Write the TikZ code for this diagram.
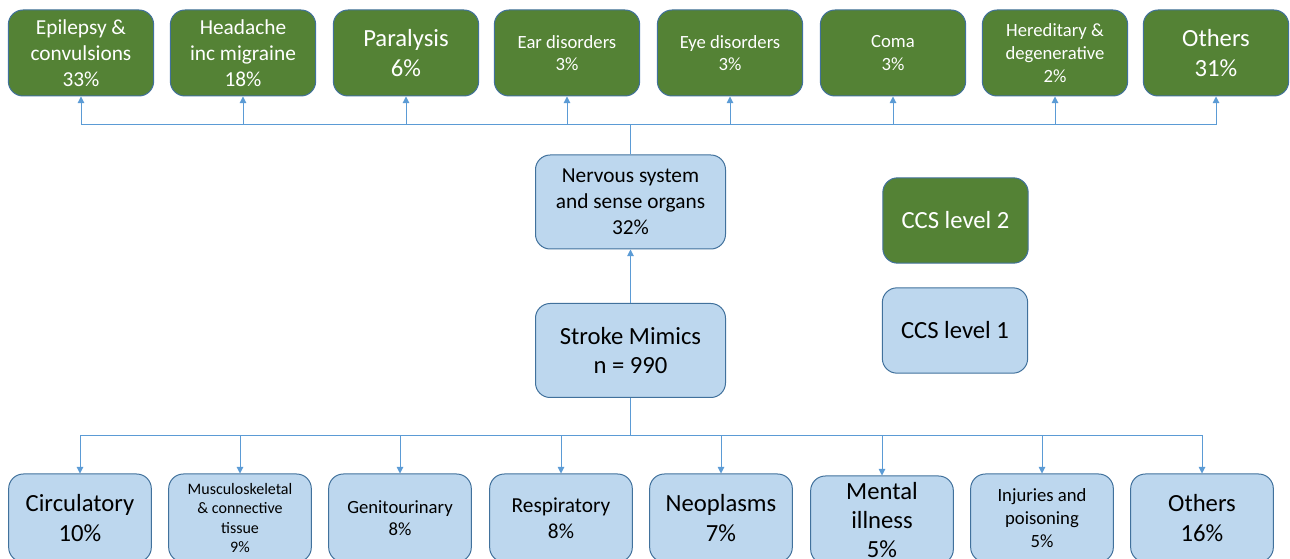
\documentclass[tikz,border=0pt]{standalone}
\usepackage{fontspec}
\setmainfont{Carlito}
\usetikzlibrary{arrows.meta}
\definecolor{ccsgreen}{HTML}{548235}
\definecolor{ccsblue}{HTML}{BDD7EE}
\definecolor{ccsedge}{HTML}{41719C}
\definecolor{ccsline}{HTML}{5B9BD5}

\begin{document}
\begin{tikzpicture}[x=0.75pt,y=-0.75pt,
    ccsbox/.style={draw=ccsedge,line width=0.75pt,rounded corners=11pt,align=center,inner sep=0pt},
    lvltwo/.style={ccsbox,fill=ccsgreen,text=white,minimum width=109pt,minimum height=64.5pt},
    lvlone/.style={ccsbox,fill=ccsblue,text=black,minimum width=107pt,minimum height=66pt},
    bigtxt/.style={font=\fontsize{18.5}{22}\selectfont},
    midtxt/.style={font=\fontsize{16}{19.5}\selectfont},
    smalltxt/.style={font=\fontsize{14}{17}\selectfont},
    tinytxt/.style={font=\fontsize{12}{14.6}\selectfont},
    conn/.style={draw=ccsline,line width=0.75pt},
    tip/.style={conn,-{Triangle[length=5pt,width=5pt]}}]
    \useasboundingbox (0,0) rectangle (1290,559);
    \node[lvltwo,midtxt] (epilepsy) at (81,53) {Epilepsy \&\\convulsions\\33\%};
    \node[lvltwo,midtxt] (headache) at (243,53) {Headache\\inc migraine\\18\%};
    \node[lvltwo,bigtxt] (paralysis) at (406,53) {Paralysis\\6\%};
    \node[lvltwo,smalltxt] (ear) at (567,53) {Ear disorders\\3\%};
    \node[lvltwo,smalltxt] (eye) at (730,53) {Eye disorders\\3\%};
    \node[lvltwo,smalltxt] (coma) at (893,53) {Coma\\3\%};
    \node[lvltwo,smalltxt] (hereditary) at (1055,53) {Hereditary \&\\degenerative\\2\%};
    \node[lvltwo,bigtxt] (othersnerv) at (1216,53) {Others\\31\%};
    \node[lvlone,midtxt,minimum width=142.5pt,minimum height=70.5pt] (nervous) at (630.5,202) {Nervous system\\and sense organs\\32\%};
    \node[lvlone,bigtxt,minimum width=142.5pt,minimum height=70.5pt] (mimics) at (630.5,350.5) {Stroke Mimics\\n = 990};
    \node[lvltwo,bigtxt,minimum height=64pt] (legendtwo) at (955.5,220.5) {CCS level 2};
    \node[lvlone,bigtxt,minimum width=109pt,minimum height=64pt] (legendone) at (955,330.5) {CCS level 1};
    \node[lvlone,bigtxt] (circulatory) at (80,518) {Circulatory\\10\%};
    \node[lvlone,tinytxt] (musculo) at (240,518) {Musculoskeletal\\\& connective\\tissue\\9\%};
    \node[lvlone,smalltxt] (genito) at (400,518) {Genitourinary\\8\%};
    \node[lvlone,midtxt] (respiratory) at (561,518) {Respiratory\\8\%};
    \node[lvlone,bigtxt] (neoplasms) at (721,518) {Neoplasms\\7\%};
    \node[lvlone,bigtxt] (mental) at (882,520) {Mental\\illness\\5\%};
    \node[lvlone,smalltxt] (injuries) at (1042,518) {Injuries and\\poisoning\\5\%};
    \node[lvlone,bigtxt] (othersall) at (1202,518) {Others\\16\%};
    \path (nervous.north) ++(0,-30) coordinate (upbus);
    \path (mimics.south) ++(0,38) coordinate (downbus);
    \draw[conn] (nervous.north) -- (upbus);
    \draw[tip] (mimics.north) -- (nervous.south);
    \draw[conn] (mimics.south) -- (downbus);
    \foreach \n in {epilepsy,headache,paralysis,ear,eye,coma,hereditary,othersnerv}
        \draw[tip] (upbus) -| (\n.south);
    \foreach \n in {circulatory,musculo,genito,respiratory,neoplasms,mental,injuries,othersall}
        \draw[tip] (downbus) -| (\n.north);
\end{tikzpicture}
\end{document}
